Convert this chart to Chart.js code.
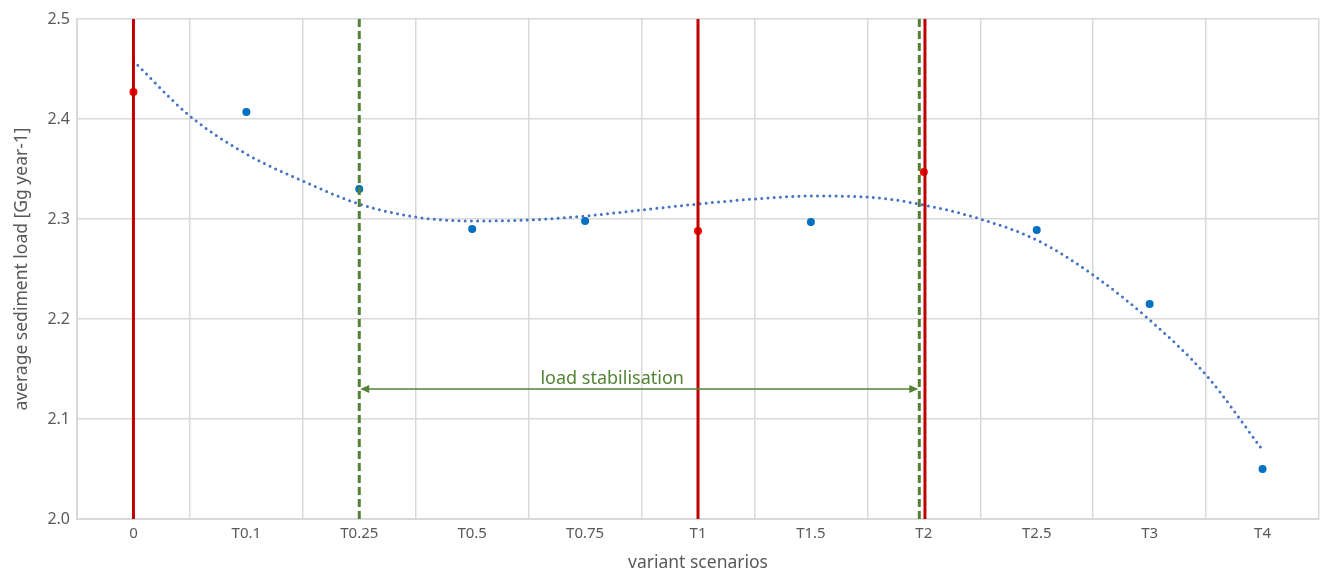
<!DOCTYPE html>
<html>
<head>
<meta charset="utf-8">
<script src="https://cdn.jsdelivr.net/npm/chart.js@4.4.1/dist/chart.umd.min.js"></script>
<style>
  html, body { margin: 0; padding: 0; background: #fff; }
  #wrap { width: 1323px; height: 570px; }
</style>
</head>
<body>
<div id="wrap"><canvas id="loadChart"></canvas></div>
<script>
// categories along the x axis
const scenarios = ['0', 'T0.1', 'T0.25', 'T0.5', 'T0.75', 'T1', 'T1.5', 'T2', 'T2.5', 'T3', 'T4'];
// average sediment load per scenario [Gg year-1]
const sedimentLoad = [2.427, 2.407, 2.330, 2.290, 2.298, 2.288, 2.297, 2.347, 2.289, 2.215, 2.050];
// dotted trend line, read every half scenario step
const trendX = [0, 0.5, 1, 1.5, 2, 2.5, 3, 3.5, 4, 4.5, 5, 5.5, 6, 6.5, 7, 7.5, 8, 8.5, 9, 9.5, 10];
const trendY = [2.458, 2.403, 2.365, 2.338, 2.315, 2.302, 2.298, 2.299, 2.303, 2.309, 2.315,
                2.320, 2.323, 2.322, 2.314, 2.300, 2.279, 2.244, 2.199, 2.144, 2.069];
// marker lines (scenario index positions)
const redLines = [0, 5, 7.01];
const greenLines = [2, 6.96];
const yTicks = [2.0, 2.1, 2.2, 2.3, 2.4, 2.5];
const stabilisationLabel = 'load stabilisation';
const stabilisationLevel = 2.130;
const labelPosition = 4.24;

const GRID = '#d9d9d9';
const TEXT = '#595959';
const RED = '#c00000';
const GREEN = '#548235';
const FONT = "'Noto Sans', 'Open Sans', sans-serif";

function vLine(x) {
    return [{ x: x, y: yTicks[0] }, { x: x, y: yTicks[yTicks.length - 1] }];
}

const datasets = [];

redLines.forEach(x => datasets.push({
    type: 'line', data: vLine(x), borderColor: RED, borderWidth: 3,
    pointRadius: 0, order: 1
}));
greenLines.forEach(x => datasets.push({
    type: 'line', data: vLine(x), borderColor: GREEN, borderWidth: 3,
    borderDash: [8, 4], pointRadius: 0, order: 2
}));
datasets.push({
    type: 'line',
    data: trendX.map((x, i) => ({ x: x, y: trendY[i] })),
    borderColor: '#4472c4', borderWidth: 3, borderDash: [0, 6.2], borderCapStyle: 'round',
    cubicInterpolationMode: 'monotone', pointRadius: 0, order: 3
});
datasets.push({
    type: 'scatter',
    data: sedimentLoad.map((y, i) => ({ x: i, y: y })),
    pointRadius: 4, pointBorderWidth: 0,
    pointBackgroundColor: ctx => redLines.some(v => Math.round(v) === ctx.dataIndex) ? '#ff0000' : '#0070c0',
    order: 4
});

const stabilisationArrow = {
    id: 'stabilisationArrow',
    afterDatasetsDraw(chart) {
        const { ctx, scales: { x, y } } = chart;
        const x1 = x.getPixelForValue(greenLines[0]);
        const x2 = x.getPixelForValue(greenLines[1]);
        const py = y.getPixelForValue(stabilisationLevel);
        ctx.save();
        ctx.strokeStyle = GREEN;
        ctx.fillStyle = GREEN;
        ctx.lineWidth = 1.5;
        ctx.beginPath();
        ctx.moveTo(x1 + 6, py);
        ctx.lineTo(x2 - 6, py);
        ctx.stroke();
        [[x1 + 1, 1], [x2 - 1, -1]].forEach(([px, dir]) => {
            ctx.beginPath();
            ctx.moveTo(px, py);
            ctx.lineTo(px + dir * 9, py - 4);
            ctx.lineTo(px + dir * 9, py + 4);
            ctx.closePath();
            ctx.fill();
        });
        ctx.font = '18px ' + FONT;
        ctx.textAlign = 'center';
        ctx.textBaseline = 'alphabetic';
        ctx.fillText(stabilisationLabel, x.getPixelForValue(labelPosition), py - 5);
        ctx.restore();
    }
};

new Chart(document.getElementById('loadChart'), {
    type: 'scatter',
    data: { datasets: datasets },
    plugins: [stabilisationArrow],
    options: {
        responsive: true,
        maintainAspectRatio: false,
        animation: false,
        layout: { padding: { top: 19, right: 0, left: 0, bottom: 0 } },
        plugins: { legend: { display: false }, tooltip: { enabled: false } },
        scales: {
            x: {
                type: 'linear',
                min: -0.5,
                max: scenarios.length - 0.5,
                afterBuildTicks: scale => {
                    const ticks = [];
                    for (let v = -0.5; v <= scenarios.length - 0.5; v += 0.5) ticks.push({ value: v });
                    scale.ticks = ticks;
                },
                afterFit: scale => {
                    scale.height = 51;
                    scale.paddingLeft = 0;
                    scale.paddingRight = 0;
                },
                ticks: {
                    autoSkip: false, maxRotation: 0, padding: 6,
                    color: TEXT, font: { family: FONT, size: 15 },
                    callback: v => Number.isInteger(v) ? scenarios[v] : ''
                },
                grid: {
                    drawTicks: false, lineWidth: 1.5,
                    color: ctx => (ctx.tick && Number.isInteger(ctx.tick.value)) ? 'rgba(0,0,0,0)' : GRID
                },
                border: { color: GRID, width: 2 },
                title: {
                    display: true, text: 'variant scenarios', color: TEXT,
                    font: { family: FONT, size: 17.5, lineHeight: 1 }, padding: { top: 4, bottom: -2 }
                }
            },
            y: {
                min: yTicks[0],
                max: yTicks[yTicks.length - 1],
                afterBuildTicks: scale => { scale.ticks = yTicks.map(v => ({ value: v })); },
                afterFit: scale => {
                    scale.width = 77;
                    scale.paddingTop = 0;
                    scale.paddingBottom = 0;
                },
                ticks: {
                    padding: 7, color: TEXT, font: { family: FONT, size: 16 },
                    callback: v => v.toFixed(1)
                },
                grid: { drawTicks: false, lineWidth: 1.5, color: GRID },
                border: { color: GRID, width: 2 },
                title: {
                    display: true, text: 'average sediment load [Gg year-1]', color: TEXT,
                    font: { family: FONT, size: 17.5, lineHeight: 1.2 }, padding: { top: 12, bottom: 0 }
                }
            }
        }
    }
});
</script>
</body>
</html>
